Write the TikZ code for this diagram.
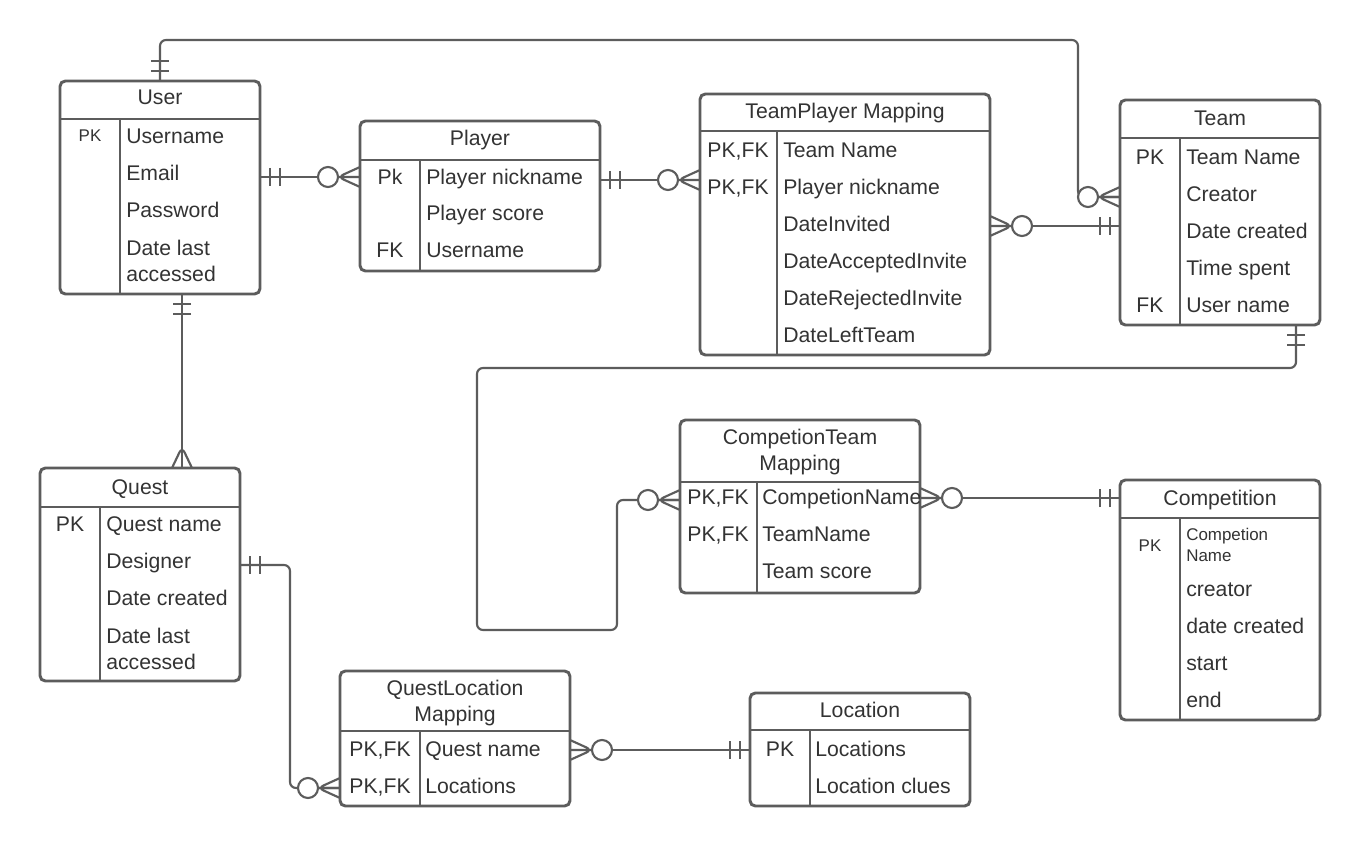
\documentclass[tikz,border=0pt]{standalone}
\usepackage{fontspec}
\setmainfont{Liberation Sans}
\usetikzlibrary{fit}
\definecolor{ln}{HTML}{5C5C5C}
\definecolor{tx}{HTML}{333333}
\tikzset{
  ebox/.style={draw=ln, fill=white, line width=2.2pt, rounded corners=4pt, inner sep=0pt},
  eline/.style={draw=ln, line width=2.2pt},
  conn/.style={draw=ln, line width=1.6pt, rounded corners=4.5pt},
  txt/.style={text=tx, inner sep=0pt, font=\fontsize{15.9}{19.5}\selectfont},
  ttl/.style={txt, anchor=base, align=center},
  ttl2/.style={txt, anchor=north, align=center},
  fld/.style={txt, anchor=base west},
  fld2/.style={txt, anchor=north west, align=left},
  key/.style={txt, anchor=base},
  sml/.style={font=\fontsize{12.7}{15.75}\selectfont},
}
% end markers: #1 = point on the entity border, #2 = direction of the line leaving it
\newcommand\oneone[2]{\begin{scope}[shift={(#1)},rotate=#2]
  \draw[conn] (10,-9) -- (10,9) (20,-9) -- (20,9);\end{scope}}
\newcommand\zeromany[2]{\begin{scope}[shift={(#1)},rotate=#2]
  \draw[conn] (0,-10) -- (22,0) -- (0,10) (0,0) -- (22,0);
  \draw[conn, fill=white] (32,0) circle[radius=7.5pt];\end{scope}}
\newcommand\manyonly[2]{\begin{scope}[shift={(#1)},rotate=#2]
  \draw[conn] (0,-10) -- (21,0) -- (0,10);\end{scope}}
% entity frame: name, x1, y1, x2, y2, header line y, key column x
\newcommand\entity[7]{%
  \node[ebox, fit={(#2,#3) (#4,#5)}] (#1) {};
  \draw[eline] (#2,#6) -- (#4,#6);
  \draw[eline] (#7,#6) -- (#7,#5);}

\begin{document}
\begin{tikzpicture}[x=0.75pt, y=-0.75pt]
\useasboundingbox (0,0) rectangle (1360,848);
\fill[white] (0,0) rectangle (1360,848);

% ---------- connectors ----------
\coordinate (uTop) at (160,81);
\coordinate (tmA) at (1120,197);
\coordinate (uBot) at (182,294);
\coordinate (qTop) at (182,468);
\coordinate (qR) at (240,565);
\coordinate (qlmL) at (340,788);
\coordinate (tBot) at (1296,325);
\coordinate (ctmL) at (680,500);

\draw[conn] (uTop) -- (160,40) -- (1078,40) -- (1078,197) -- (tmA);
\draw[conn] (uBot) -- (qTop);
\draw[conn] (qR) -- (290,565) -- (290,788) -- (qlmL);
\draw[conn] (tBot) -- (1296,368) -- (477,368) -- (477,630) -- (617,630) -- (617,500) -- (ctmL);
\draw[conn] (260,177) coordinate (uR) -- (360,177) coordinate (pL);
\draw[conn] (600,180) coordinate (pR) -- (700,180) coordinate (tpmL);
\draw[conn] (990,226) coordinate (tpmR) -- (1120,226) coordinate (tmB);
\draw[conn] (570,750) coordinate (qlmR) -- (750,750) coordinate (locL);
\draw[conn] (920,498) coordinate (ctmR) -- (1120,498) coordinate (compL);

% ---------- User ----------
\entity{user}{60}{81}{260}{294}{119}{120}
\node[ttl] at (160,104.5) {User};
\node[key, sml] at (90,141.5) {PK};
\node[fld] at (126,143.5) {Username};
\node[fld] at (126,180.5) {Email};
\node[fld] at (126,217.5) {Password};
\node[fld2] at (126,239.6) {Date last\\accessed};

% ---------- Player ----------
\entity{player}{360}{121}{600}{271}{160}{420}
\node[ttl] at (480,145.5) {Player};
\node[key] at (390,184.5) {Pk};
\node[key] at (390,257.5) {FK};
\node[fld] at (426,184.5) {Player nickname};
\node[fld] at (426,220.5) {Player score};
\node[fld] at (426,257.5) {Username};

% ---------- TeamPlayer Mapping ----------
\entity{tpm}{700}{94}{990}{355}{131}{777}
\node[ttl] at (845,118.5) {TeamPlayer Mapping};
\node[key] at (738,157.5) {PK,FK};
\node[key] at (738,194.5) {PK,FK};
\node[fld] at (783,157.5) {Team Name};
\node[fld] at (783,194.5) {Player nickname};
\node[fld] at (783,231.5) {DateInvited};
\node[fld] at (783,268.5) {DateAcceptedInvite};
\node[fld] at (783,305.5) {DateRejectedInvite};
\node[fld] at (783,342.5) {DateLeftTeam};

% ---------- Team ----------
\entity{team}{1120}{100}{1320}{325}{138}{1180}
\node[ttl] at (1220,125.5) {Team};
\node[key] at (1150,164.5) {PK};
\node[key] at (1150,312.5) {FK};
\node[fld] at (1186,164.5) {Team Name};
\node[fld] at (1186,201.5) {Creator};
\node[fld] at (1186,238.5) {Date created};
\node[fld] at (1186,275.5) {Time spent};
\node[fld] at (1186,312.5) {User name};

% ---------- Quest ----------
\entity{quest}{40}{468}{240}{681}{507}{100}
\node[ttl] at (140,494.5) {Quest};
\node[key] at (70,531.5) {PK};
\node[fld] at (106,531.5) {Quest name};
\node[fld] at (106,568.5) {Designer};
\node[fld] at (106,605.5) {Date created};
\node[fld2] at (106,627.6) {Date last\\accessed};

% ---------- CompetionTeam Mapping ----------
\entity{ctm}{680}{420}{920}{593}{482}{757}
\node[ttl2] at (800,428.6) {CompetionTeam\\Mapping};
\node[key] at (718,504.5) {PK,FK};
\node[key] at (718,541.5) {PK,FK};
\node[fld] at (762,504.5) {CompetionName};
\node[fld] at (762,541.5) {TeamName};
\node[fld] at (762,578.5) {Team score};

% ---------- Competition ----------
\entity{comp}{1120}{480}{1320}{720}{518}{1180}
\node[ttl] at (1220,505.5) {Competition};
\node[key, sml] at (1150,551) {PK};
\node[fld2, sml] at (1186,527.5) {Competion\\Name};
\node[fld] at (1186,596.5) {creator};
\node[fld] at (1186,633.5) {date created};
\node[fld] at (1186,670.5) {start};
\node[fld] at (1186,707.5) {end};

% ---------- QuestLocation Mapping ----------
\entity{qlm}{340}{671}{570}{806}{731}{420}
\node[ttl2] at (455,679.6) {QuestLocation\\Mapping};
\node[key] at (380,756.5) {PK,FK};
\node[key] at (380,793.5) {PK,FK};
\node[fld] at (425,756.5) {Quest name};
\node[fld] at (425,793.5) {Locations};

% ---------- Location ----------
\entity{loc}{750}{693}{970}{806}{730}{810}
\node[ttl] at (860,717.5) {Location};
\node[key] at (780,756.5) {PK};
\node[fld] at (815,756.5) {Locations};
\node[fld] at (815,793.5) {Location clues};

% ---------- cardinality markers ----------
\oneone{uR}{0}
\zeromany{pL}{180}
\oneone{pR}{0}
\zeromany{tpmL}{180}
\zeromany{tpmR}{0}
\oneone{tmB}{180}
\oneone{uTop}{90}
\zeromany{tmA}{180}
\oneone{uBot}{270}
\manyonly{qTop}{90}
\oneone{qR}{0}
\zeromany{qlmL}{180}
\zeromany{qlmR}{0}
\oneone{locL}{180}
\oneone{tBot}{270}
\zeromany{ctmL}{180}
\zeromany{ctmR}{0}
\oneone{compL}{180}
\end{tikzpicture}
\end{document}
